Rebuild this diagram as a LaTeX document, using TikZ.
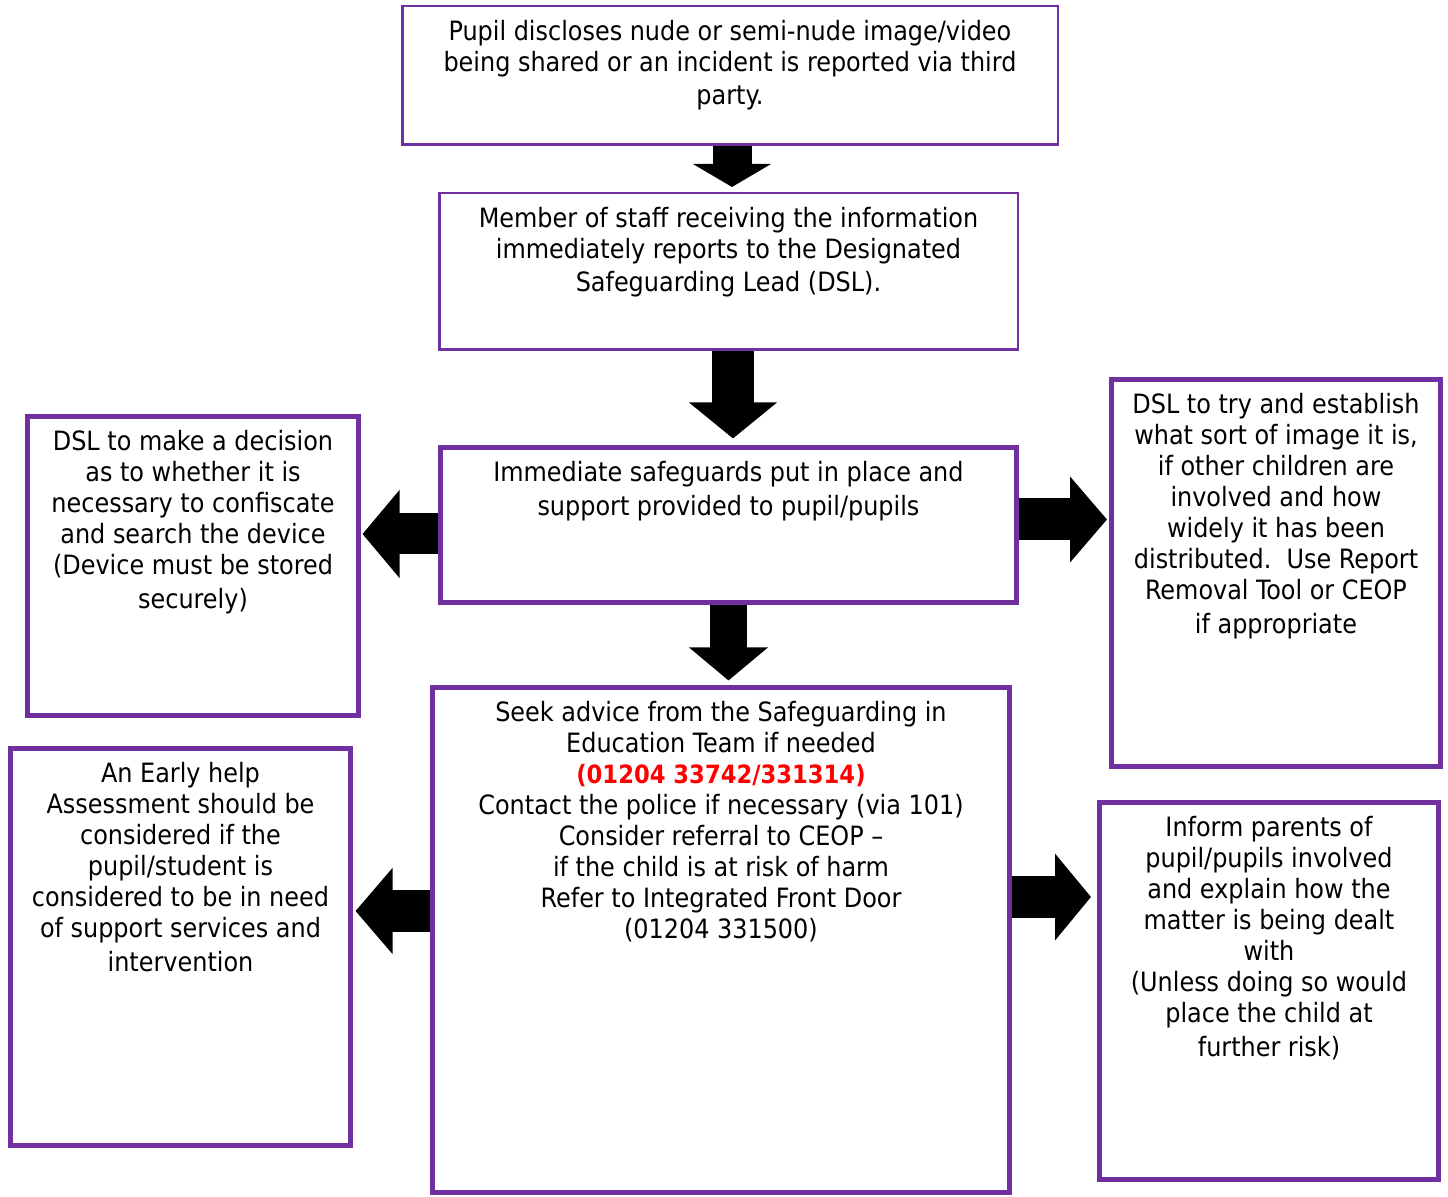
\documentclass[tikz,border=0pt]{standalone}
\usepackage{fontspec}
\setmainfont{DejaVu Sans Condensed}
\usepackage{xcolor}
\usetikzlibrary{positioning,arrows.meta}
\definecolor{boxpurple}{HTML}{7030A0}
\definecolor{phonered}{HTML}{FF0000}

\tikzset{
  box/.style={draw=boxpurple, line width=2.5pt, fill=white, inner sep=0pt},
  thinbox/.style={box, line width=1.25pt},
  txt/.style={align=center, inner sep=0pt, font=\fontsize{13.3pt}{15.5pt}\selectfont},
  blk/.style n args={3}{line width=#1, draw=black, -{Triangle[length=#2,width=#3]}}
}

\begin{document}
\begin{tikzpicture}[x=0.5pt, y=-0.5pt]
                \useasboundingbox (0,0) rectangle (1448,1197);

                % boxes
                \node[thinbox, minimum width=327.75pt, minimum height=69.25pt] (disclose) at (730,75.5) {};
                \node[thinbox, minimum width=289.25pt, minimum height=78.25pt] (staff) at (728.5,271.5) {};
                \node[box, minimum width=288pt, minimum height=77.5pt] (safe) at (728.5,525) {};
                \node[box, minimum width=165.5pt, minimum height=149.5pt] (decide) at (193,566) {};
                \node[box, minimum width=164.5pt, minimum height=193.5pt] (establish) at (1276,573) {};
                \node[box, minimum width=288.5pt, minimum height=252.5pt] (advice) at (721,940) {};
                \node[box, minimum width=170pt, minimum height=198.5pt] (earlyhelp) at (180.5,947) {};
                \node[box, minimum width=169.5pt, minimum height=188.5pt] (parents) at (1269,991) {};

                % texts
                \node[txt, below=7.5pt] (disclosetxt) at (disclose.north) {Pupil discloses nude or semi-nude image/video\\being shared or an incident is reported via third\\[1pt]party.};
                \node[txt, below=7.5pt] (stafftxt) at (staff.north) {Member of staff receiving the information\\immediately reports to the Designated\\[1pt]Safeguarding Lead (DSL).};
                \node[txt, below=8pt] (safetxt) at (safe.north) {Immediate safeguards put in place and\\[1.5pt]support provided to pupil/pupils};
                \node[txt, below=8pt] (decidetxt) at (decide.north) {DSL to make a decision\\as to whether it is\\necessary to confiscate\\and search the device\\(Device must be stored\\[1.5pt]securely)};
                \node[txt, below=8pt] (establishtxt) at (establish.north) {DSL to try and establish\\what sort of image it is,\\if other children are\\involved and how\\widely it has been\\distributed.\ \ Use Report\\Removal Tool or CEOP\\[1.5pt]if appropriate};
                \node[txt, below=8pt] (advicetxt) at (advice.north) {Seek advice from the Safeguarding in\\Education Team if needed\\{\color{phonered}\bfseries\fontsize{12.6pt}{15.5pt}\selectfont(01204 33742/331314)}\\Contact the police if necessary (via 101)\\Consider referral to CEOP --\\if the child is at risk of harm\\Refer to Integrated Front Door\\(01204 331500)};
                \node[txt, below=8pt] (earlyhelptxt) at (earlyhelp.north) {An Early help\\Assessment should be\\considered if the\\pupil/student is\\considered to be in need\\of support services and\\[1.5pt]intervention};
                \node[txt, below=8pt] (parentstxt) at (parents.north) {Inform parents of\\pupil/pupils involved\\and explain how the\\matter is being dealt\\with\\(Unless doing so would\\place the child at\\[1.5pt]further risk)};

                % arrows
                \draw[blk={19.5pt}{11.5pt}{38.5pt}, shorten >=2.5pt] ([xshift=1pt]disclose.south) -- ([xshift=1pt]disclose.south |- staff.north);
                \draw[blk={21pt}{18pt}{43pt}, shorten >=3.25pt] ([xshift=2.25pt]staff.south) -- ([xshift=2.25pt]staff.south |- safe.north);
                \draw[blk={18.5pt}{16.5pt}{38.5pt}, shorten >=2.25pt] (safe.south) -- (safe.south |- advice.north);
                \draw[blk={20.5pt}{18.5pt}{43pt}, shorten >=0.75pt] ([yshift=-4.5pt]safe.west) -- ([yshift=-4.5pt]safe.west -| decide.east);
                \draw[blk={21pt}{18.5pt}{42pt}, shorten >=1pt] ([yshift=2.75pt]safe.east) -- ([yshift=2.75pt]safe.east -| establish.west);
                \draw[blk={21pt}{18.5pt}{42pt}, shorten >=1.25pt] ([yshift=14.5pt]advice.west) -- ([yshift=14.5pt]advice.west -| earlyhelp.east);
                \draw[blk={21pt}{18pt}{42.5pt}, shorten >=3pt] ([yshift=21.5pt]advice.east) -- ([yshift=21.5pt]advice.east -| parents.west);
            \end{tikzpicture}
\end{document}
